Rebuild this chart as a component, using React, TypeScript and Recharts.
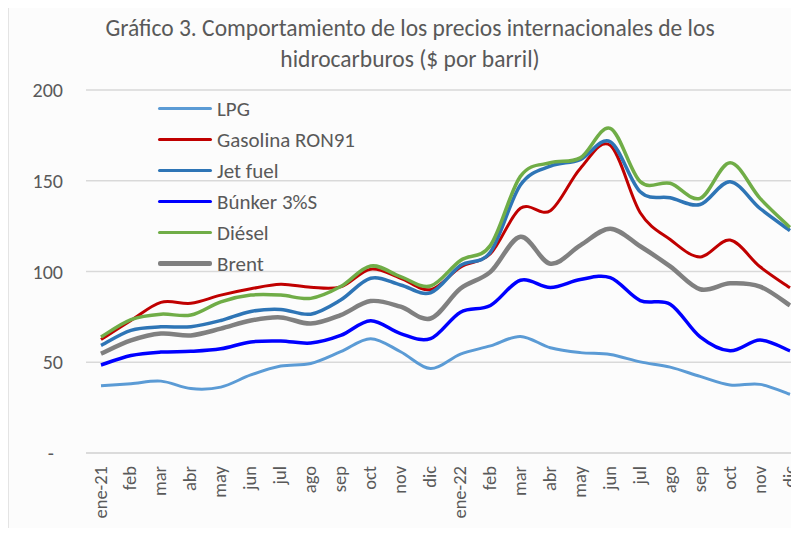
import React from "react";
import { LineChart, Line, XAxis, YAxis, CartesianGrid } from "recharts";

const months = ["ene-21","feb","mar","abr","may","jun","jul","ago","sep","oct","nov","dic","ene-22","feb","mar","abr","may","jun","jul","ago","sep","oct","nov","dic"];
const lpg = [37, 38.2, 39.6, 35.5, 36.3, 43, 47.9, 49.3, 55.8, 63, 55.8, 46.5, 54.5, 59, 64.2, 58, 55.3, 54.3, 50.2, 47.3, 42.2, 37.5, 37.8, 32.3];
const gasolina = [62.5, 73, 83, 82.5, 87, 90.5, 93, 91.3, 91.5, 101.3, 96.3, 90, 102.4, 109.8, 134.8, 133.5, 156.8, 169.5, 132.4, 117.6, 108, 117.3, 102.6, 91];
const jetFuel = [59.3, 67.6, 69.5, 69.6, 73, 78, 79.1, 76.5, 84.3, 96.3, 92.6, 88.3, 103.3, 110.7, 147.6, 158, 161.7, 171.5, 143.9, 140.6, 136.9, 149.5, 134.7, 122.5];
const bunker = [48.5, 53.7, 55.6, 56, 57.4, 61.2, 61.7, 60.6, 64.8, 72.9, 65.8, 63, 77.6, 81.3, 95.2, 91.2, 95.6, 96.6, 84, 82, 64, 56.3, 62.2, 56.3];
const diesel = [63.9, 73.5, 76.5, 76, 83.3, 87, 87, 85.2, 91.7, 103, 97.2, 92, 106.1, 114.4, 152.4, 159.9, 162.6, 178.9, 149.5, 148.6, 140.3, 159.9, 140.3, 124.3];
const brent = [54.7, 62, 65.8, 64.8, 68.5, 73, 74.7, 71.3, 76, 83.7, 80.6, 74.1, 90.6, 99.8, 119.1, 104.3, 114.4, 123.6, 113.9, 102.8, 90.2, 93.5, 91.7, 81.3];
const yTicks = [0, 50, 100, 150, 200];

const series = [
  { key: "lpg", name: "LPG", color: "#5B9BD5", width: 3, values: lpg },
  { key: "gasolina", name: "Gasolina RON91", color: "#C00000", width: 3, values: gasolina },
  { key: "jet", name: "Jet fuel", color: "#2E75B6", width: 3.5, values: jetFuel },
  { key: "bunker", name: "Búnker 3%S", color: "#0000FF", width: 3.5, values: bunker },
  { key: "diesel", name: "Diésel", color: "#70AD47", width: 3.5, values: diesel },
  { key: "brent", name: "Brent", color: "#808080", width: 4.5, values: brent },
];

const data = months.map((m, i) => {
  const row: any = { idx: i };
  series.forEach((s) => (row[s.key] = s.values[i]));
  return row;
});

const FONT = "Carlito, Calibri, Lato, sans-serif";
const TEXT = "#595959";

// Excel-like smooth curve (Catmull-Rom style Bezier)
function excelCurve(context: any) {
  let pts: number[][] = [];
  return {
    areaStart() {},
    areaEnd() {},
    lineStart() { pts = []; },
    point(x: number, y: number) { pts.push([+x, +y]); },
    lineEnd() {
      if (!pts.length) return;
      context.moveTo(pts[0][0], pts[0][1]);
      for (let i = 0; i < pts.length - 1; i++) {
        const p0 = pts[i - 1] || pts[i];
        const p1 = pts[i];
        const p2 = pts[i + 1];
        const p3 = pts[i + 2] || pts[i + 1];
        context.bezierCurveTo(
          p1[0] + (p2[0] - p0[0]) / 6, p1[1] + (p2[1] - p0[1]) / 6,
          p2[0] - (p3[0] - p1[0]) / 6, p2[1] - (p3[1] - p1[1]) / 6,
          p2[0], p2[1]
        );
      }
    },
  };
}

const XTick = (props: any) => {
  const { x, y, payload } = props;
  const label = months[payload.value];
  const ty = y + 13;
  const tx = x - 1;
  return (
    <text x={tx} y={ty} transform={`rotate(-90, ${tx}, ${ty})`} textAnchor="end" dominantBaseline="central"
      fill={TEXT} fontSize={18.5} fontFamily={FONT}>{label}</text>
  );
};

const LegendBox = () => (
  <div style={{ position: "absolute", left: 158, top: 93, fontFamily: FONT }}>
    {series.map((s) => (
      <div key={s.key} style={{ display: "flex", alignItems: "center", height: 31 }}>
        <div style={{ width: 54, height: s.width, background: s.color, borderRadius: 2 }} />
        <span style={{ marginLeft: 5, fontSize: 21, color: TEXT, whiteSpace: "nowrap" }}>{s.name}</span>
      </div>
    ))}
  </div>
);

export default function App() {
  return (
    <div style={{ position: "relative", margin: -8, width: 799, height: 536, overflow: "hidden", background: "#ffffff" }}>
      <div style={{ position: "absolute", left: 7, top: 5, width: 800, height: 529, border: "2px solid #e4e4e4", background: "#fcfcfc" }} />
      <div style={{ position: "absolute", left: 0, top: 13, width: 820, textAlign: "center", fontFamily: FONT, fontSize: 23.5, lineHeight: "31px", color: TEXT }}>
        Gráfico 3. Comportamiento de los precios internacionales de los<br />hidrocarburos ($ por barril)
      </div>
      <div style={{ position: "absolute", left: 0, top: 0 }}>
        <LineChart width={799} height={536} data={data} margin={{ top: 90, right: 0, bottom: 0, left: 0 }}>
          <CartesianGrid horizontal={true} vertical={false} stroke="#d9d9d9" strokeWidth={1.5} />
          <XAxis dataKey="idx" type="category" height={83} padding={{ left: 15, right: 9 }}
            axisLine={{ stroke: "#d9d9d9", strokeWidth: 1.5 }} tickLine={false} tickSize={0} tickMargin={0}
            interval={0} tick={<XTick />} />
          <YAxis width={86} domain={[0, 200]} ticks={yTicks} axisLine={false} tickLine={false} tickSize={0} tickMargin={23}
            tick={{ fill: TEXT, fontSize: 20, fontFamily: FONT }}
            tickFormatter={(v: number) => (v === 0 ? "-\u00A0\u00A0" : String(v))} />
          {series.map((s) => (
            <Line key={s.key} dataKey={s.key} name={s.name} stroke={s.color} strokeWidth={s.width}
              type={excelCurve as any} dot={false} activeDot={false} isAnimationActive={false} />
          ))}
        </LineChart>
      </div>
      <LegendBox />
    </div>
  );
}
